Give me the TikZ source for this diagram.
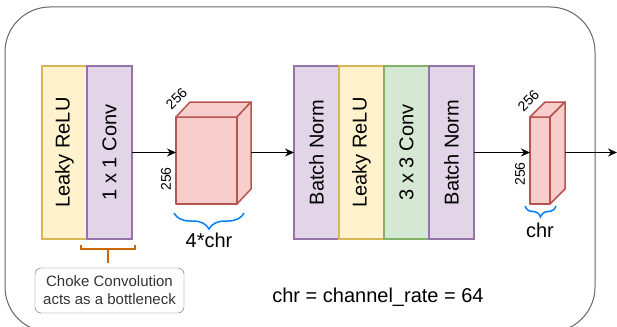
\documentclass[tikz,border=0pt]{standalone}
\usepackage{fontspec}
\setmainfont{Liberation Sans}
\usetikzlibrary{arrows.meta, positioning, decorations.pathreplacing, calc}
\definecolor{reluFill}{HTML}{FFF2CC}
\definecolor{reluLine}{HTML}{D6B656}
\definecolor{normFill}{HTML}{E1D5E7}
\definecolor{normLine}{HTML}{9673A6}
\definecolor{convFill}{HTML}{D5E8D4}
\definecolor{convLine}{HTML}{82B366}
\definecolor{mapFill}{HTML}{F8CECC}
\definecolor{mapLine}{HTML}{B85450}
\definecolor{braceBlue}{HTML}{007FFF}
\definecolor{braceOrange}{HTML}{CC6600}
\definecolor{frameGray}{HTML}{666666}
\tikzset{%
	layer/.style={draw, rectangle, minimum width=45pt, minimum height=173pt,%
		inner sep=0pt, outer sep=0pt, line width=1.5pt, font=\fontsize{20}{24}\selectfont},
	relu/.style={layer, fill=reluFill, draw=reluLine},
	purp/.style={layer, fill=normFill, draw=normLine},
	conv/.style={layer, fill=convFill, draw=convLine},
	fmap/.style={draw=mapLine, fill=mapFill, line width=1.5pt, line join=round},
	face/.style={fmap, inner sep=0pt, outer sep=0pt},
	flow/.style={-{Stealth[length=9pt, width=8pt]}, line width=1.3pt},
	dimtext/.style={font=\fontsize{14}{16}\selectfont, inner sep=0pt},
	sizetext/.style={font=\fontsize{20}{24}\selectfont, inner sep=0pt},
	widthbrace/.style={draw=braceBlue, line width=1.5pt, decorate,%
		decoration={brace, mirror, amplitude=#1}},
	note/.style={draw=frameGray, rounded corners=6pt, align=center, text=black!80,%
		minimum width=149pt, minimum height=45pt, inner sep=0pt,%
		font=\fontsize{15}{18}\selectfont}
}
\begin{document}
\begin{tikzpicture}[x=1pt, y=-1pt]
	\useasboundingbox (0,0) rectangle (617,326);
	\draw[frameGray, line width=1pt, rounded corners=45pt] (5,7) rectangle (595,332);

	% choke block
	\node[relu] (relu1) at (64.5,152.5) {\rotatebox{90}{Leaky ReLU}};
	\node[purp, right=0pt of relu1] (conv1) {\rotatebox{90}{1 x 1 Conv}};

	% first feature map
	\node[face, minimum width=61pt, minimum height=87pt] (map1) at (206.5,160.5) {};
	\coordinate (map1b) at ($(map1.north east)+(14,-15)$);
	\draw[fmap] (map1.north west) -- ++(14,-15) -- (map1b) -- (map1.north east) -- cycle;
	\draw[fmap] (map1.north east) -- (map1b) -- ++(0,87) -- (map1.south east) -- cycle;
	\node[dimtext, rotate=45] (d1a) at (176.5,98.5) {256};
	\node[dimtext, rotate=90] (d1b) at (166,179) {256};
	\draw[widthbrace=16pt] (174,213) -- (244,213);
	\node[sizetext] (w1) at (209,240) {4*chr};

	% bottleneck block
	\node[purp] (bn1) at (316.5,152.5) {\rotatebox{90}{Batch Norm}};
	\node[relu, right=0pt of bn1] (relu2) {\rotatebox{90}{Leaky ReLU}};
	\node[conv, right=0pt of relu2] (conv2) {\rotatebox{90}{3 x 3 Conv}};
	\node[purp, right=0pt of conv2] (bn2) {\rotatebox{90}{Batch Norm}};

	% second feature map
	\node[face, minimum width=20pt, minimum height=87pt] (map2) at (540,160.5) {};
	\coordinate (map2b) at ($(map2.north east)+(15,-15)$);
	\draw[fmap] (map2.north west) -- ++(15,-15) -- (map2b) -- (map2.north east) -- cycle;
	\draw[fmap] (map2.north east) -- (map2b) -- ++(0,87) -- (map2.south east) -- cycle;
	\node[dimtext, rotate=45] (d2a) at (528.5,100.5) {256};
	\node[dimtext, rotate=90] (d2b) at (520,174) {256};
	\draw[widthbrace=11pt] (525,206) -- (556,206);
	\node[sizetext] (w2) at (540,230) {chr};

	\coordinate (out) at (617,152.5);
	\draw[flow] (conv1.east) -- (conv1.east -| map1.west);
	\draw[flow] (map1b |- bn1.west) -- (bn1.west);
	\draw[flow] (bn2.east) -- (bn2.east -| map2.west);
	\draw[flow] (map2b |- bn2.east) -- (out);

	% note
	\draw[braceOrange, line width=2pt] (81,245) -- (81,249) -- (135,249) -- (135,245)
		(108,249) -- (108,263);
	\node[note] (choke) at (109.5,290.5) {Choke Convolution\\acts as a bottleneck};
	\node[sizetext] (rate) at (378,297) {chr = channel\_rate = 64};
\end{tikzpicture}
\end{document}
